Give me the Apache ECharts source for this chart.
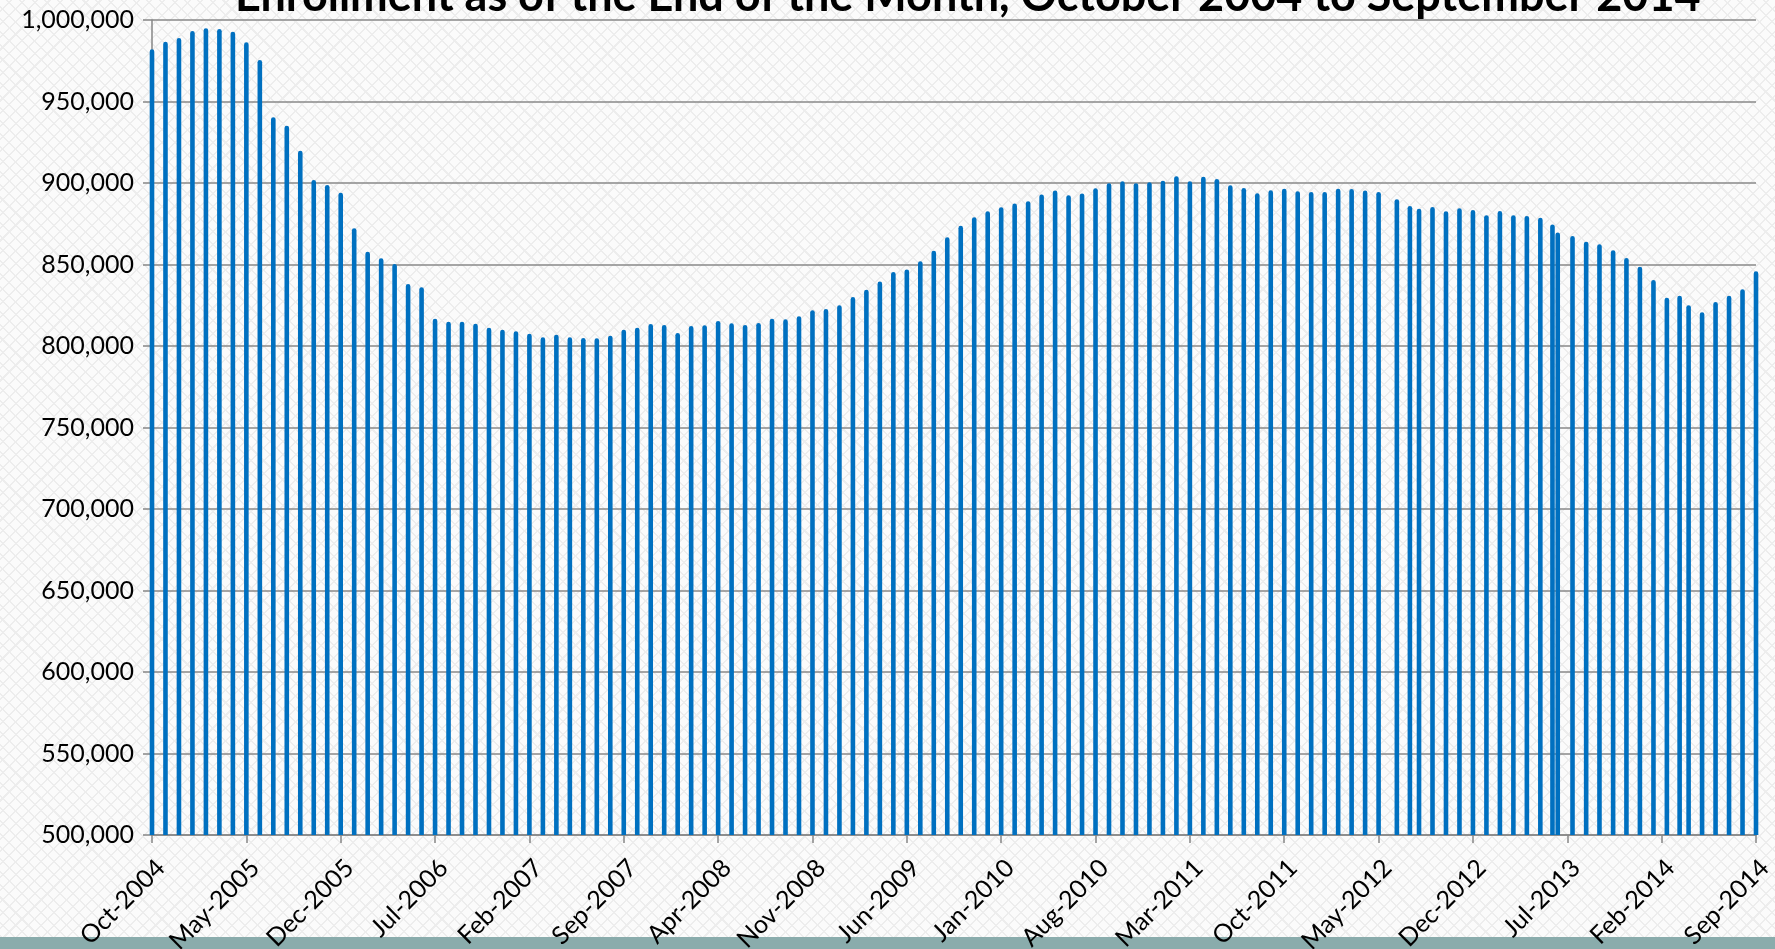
<!DOCTYPE html>
<html>
<head>
<meta charset="utf-8">
<script src="https://cdn.jsdelivr.net/npm/echarts@6/dist/echarts.min.js"></script>
<style>
  html, body { margin: 0; padding: 0; }
  body {
    width: 1775px; height: 949px; position: relative; overflow: hidden;
    background-color: #fbfbfb;
    background-image:
      repeating-linear-gradient(45deg, #ededed 0 1.5px, transparent 1.5px 9px),
      repeating-linear-gradient(-45deg, #ededed 0 1.5px, transparent 1.5px 9px);
  }
  #strip { position: absolute; left: 0; bottom: 0; width: 1775px; height: 12px; background: #8aacac; }
  #chart { position: absolute; left: 0; top: 0; width: 1775px; height: 949px; }
</style>
</head>
<body>
<div id="strip"></div>
<div id="chart"></div>
<script>
// tick labels, one every 7 months
var tickLabels = ['Oct-2004','May-2005','Dec-2005','Jul-2006','Feb-2007','Sep-2007','Apr-2008','Nov-2008',
  'Jun-2009','Jan-2010','Aug-2010','Mar-2011','Oct-2011','May-2012','Dec-2012','Jul-2013','Feb-2014','Sep-2014'];

// reporting dates (mostly end of month, a few off dates from mid 2012)
var dates = [
  '2004-10-31','2004-11-30','2004-12-31',
  '2005-01-31','2005-02-28','2005-03-31','2005-04-30','2005-05-31','2005-06-30','2005-07-31','2005-08-31','2005-09-30','2005-10-31','2005-11-30','2005-12-31',
  '2006-01-31','2006-02-28','2006-03-31','2006-04-30','2006-05-31','2006-06-30','2006-07-31','2006-08-31','2006-09-30','2006-10-31','2006-11-30','2006-12-31',
  '2007-01-31','2007-02-28','2007-03-31','2007-04-30','2007-05-31','2007-06-30','2007-07-31','2007-08-31','2007-09-30','2007-10-31','2007-11-30','2007-12-31',
  '2008-01-31','2008-02-29','2008-03-31','2008-04-30','2008-05-31','2008-06-30','2008-07-31','2008-08-31','2008-09-30','2008-10-31','2008-11-30','2008-12-31',
  '2009-01-31','2009-02-28','2009-03-31','2009-04-30','2009-05-31','2009-06-30','2009-07-31','2009-08-31','2009-09-30','2009-10-31','2009-11-30','2009-12-31',
  '2010-01-31','2010-02-28','2010-03-31','2010-04-30','2010-05-31','2010-06-30','2010-07-31','2010-08-31','2010-09-30','2010-10-31','2010-11-30','2010-12-31',
  '2011-01-31','2011-02-28','2011-03-31','2011-04-30','2011-05-31','2011-06-30','2011-07-31','2011-08-31','2011-09-30','2011-10-31','2011-11-30','2011-12-31',
  '2012-01-31','2012-02-29','2012-03-31','2012-04-30','2012-05-31','2012-07-11','2012-08-10','2012-08-31','2012-09-30','2012-10-31','2012-11-30','2012-12-31',
  '2013-01-31','2013-02-28','2013-03-31','2013-04-30','2013-05-31','2013-06-27','2013-07-09','2013-08-12','2013-09-12','2013-10-12','2013-11-12','2013-12-12',
  '2014-01-12','2014-02-11','2014-03-12','2014-04-10','2014-04-30','2014-05-31','2014-06-30','2014-07-31','2014-08-31','2014-09-30'
];

// enrollment at each date
var enrollment = [
  982000, 986700, 988950,
  993250, 994900, 994500, 992800, 986300, 975460, 940300, 935150, 919800, 901840, 898770, 894050,
  872200, 857850, 853800, 850300, 838040, 836000, 816750, 814900, 814900, 813700, 811200, 810000,
  809000, 807550, 805300, 806950, 805300, 804900, 804700, 806330, 810000, 811200, 813500, 812900,
  807950, 812300, 812700, 815300, 813900, 812900, 814100, 816750, 816350, 818200, 821900, 822700,
  824950, 830000, 834550, 839500, 845400, 847000, 851950, 858450, 866650, 873700, 878950, 882650,
  885100, 887350, 888800, 892900, 895350, 892500, 893550, 896750, 899850, 901000, 899850, 900450,
  901400, 904100, 901000, 903900, 902450, 898550, 896950, 893650, 895500, 896500, 894900, 894500,
  894500, 896400, 896300, 895350, 894500, 890000, 885900, 884250, 885300, 882650, 884500, 883450,
  880200, 882750, 880200, 879750, 878700, 874500, 869600, 867500, 864000, 862400, 858700, 854000,
  848650, 840500, 829650, 830900, 825000, 820700, 827000, 830900, 834800, 845800
];

// date -> months after Oct-2004 (end of month = whole number)
function monthPos(s) {
  var p = s.split('-');
  var y = +p[0], m = +p[1], d = +p[2];
  var dim = new Date(y, m, 0).getDate();
  return (y - 2004) * 12 + (m - 10) - 1 + d / dim;
}

var seriesData = [];
for (var i = 0; i < dates.length; i++) {
  seriesData.push([monthPos(dates[i]), enrollment[i]]);
}

var myChart = echarts.init(document.getElementById('chart'));

var option = {
  backgroundColor: 'transparent',
  animation: false,
  title: {
    text: 'Enrollment as of the End of the Month, October 2004 to September 2014',
    left: 230,
    top: -31,
    textStyle: { fontFamily: 'Lato', fontWeight: 'bold', fontSize: 45, color: '#000' }
  },
  grid: { left: 152, right: 19, top: 20, bottom: 114, containLabel: false, outerBoundsMode: 'none' },
  xAxis: {
    type: 'value',
    min: 0,
    max: 119,
    interval: 7,
    axisLine: { show: true, lineStyle: { color: '#868686', width: 1.5 } },
    axisTick: { show: true, length: 8, lineStyle: { color: '#868686', width: 1.5 } },
    splitLine: { show: false },
    axisLabel: {
      rotate: 45,
      margin: 20,
      verticalAlign: 'top',
      fontFamily: 'Lato',
      fontSize: 25,
      color: '#000',
      showMinLabel: true,
      showMaxLabel: true,
      formatter: function (v) { return tickLabels[Math.round(v / 7)]; }
    }
  },
  yAxis: {
    type: 'value',
    min: 500000,
    max: 1000000,
    interval: 50000,
    axisLine: { show: true, lineStyle: { color: '#868686', width: 1.5 } },
    axisTick: { show: true, length: 9, lineStyle: { color: '#868686', width: 1.5 } },
    splitLine: { show: true, lineStyle: { color: '#888888', width: 1.6 } },
    axisLabel: {
      margin: 18,
      fontFamily: 'Lato',
      fontSize: 25,
      color: '#000',
      formatter: function (v) { return v.toLocaleString('en-US'); }
    }
  },
  series: [{
    name: 'Enrollment',
    type: 'bar',
    barWidth: 4.6,
    clip: true,
    itemStyle: { color: '#0070c0', borderRadius: [2.3, 2.3, 0, 0] },
    data: seriesData
  }]
};
myChart.setOption(option);
</script>
</body>
</html>
